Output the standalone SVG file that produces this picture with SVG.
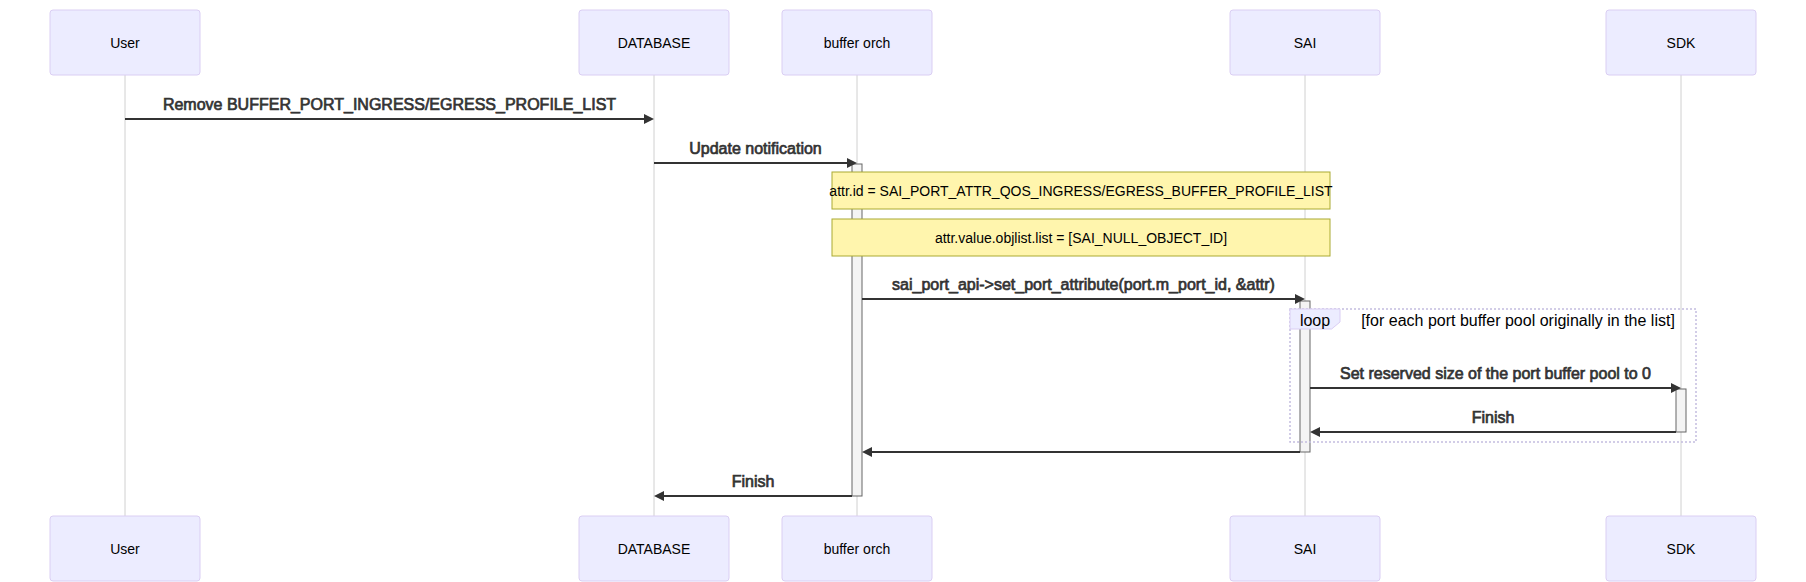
<svg xmlns="http://www.w3.org/2000/svg" width="1806" height="582" viewBox="0 0 1806 582">
<style>
.actor{fill:#ECECFF;stroke:#DACEF3;stroke-width:1}
.atext{font-family:"Liberation Sans",Arial,sans-serif;font-size:14px;fill:#000;text-anchor:middle;dominant-baseline:central}
.life{stroke:#d0d0d0;stroke-width:1}
.msg{stroke:#333;stroke-width:2;fill:none;marker-end:url(#arrowhead)}
.mtext{font-family:"Liberation Sans",Arial,sans-serif;font-size:16px;fill:#333;stroke:#333;stroke-width:0.7;text-anchor:middle}
.act{fill:#f4f4f4;stroke:#666;stroke-width:1}
.note{fill:#fff5ad;stroke:#aaaa33;stroke-width:1}
.ntext{font-family:"Liberation Sans",Arial,sans-serif;font-size:14px;fill:#000;text-anchor:middle;dominant-baseline:central}
.loopline{fill:none;stroke:#c4bde0;stroke-width:1.5;stroke-dasharray:2,2}
.lbox{fill:#ECECFF;stroke:#DACEF3;stroke-width:1}
.ltext{font-family:"Liberation Sans",Arial,sans-serif;font-size:16px;fill:#000;text-anchor:middle;dominant-baseline:central}
</style>
<defs>
<marker id="arrowhead" markerUnits="userSpaceOnUse" markerWidth="12" markerHeight="12" refX="7" refY="5" orient="auto">
<path d="M0,0 L10,5 L0,10 z" fill="#333"/>
</marker>
</defs>

<g id="lifelines">
<line class="life" x1="125" y1="75" x2="125" y2="516"/>
<line class="life" x1="654" y1="75" x2="654" y2="516"/>
<line class="life" x1="857" y1="75" x2="857" y2="516"/>
<line class="life" x1="1305" y1="75" x2="1305" y2="516"/>
<line class="life" x1="1681" y1="75" x2="1681" y2="516"/>
</g>

<g id="actor-user-top"><rect class="actor" x="50" y="10" width="150" height="65" rx="3"/><text class="atext" x="125" y="42.5">User</text></g>
<g id="actor-database-top"><rect class="actor" x="579" y="10" width="150" height="65" rx="3"/><text class="atext" x="654" y="42.5">DATABASE</text></g>
<g id="actor-bufferorch-top"><rect class="actor" x="782" y="10" width="150" height="65" rx="3"/><text class="atext" x="857" y="42.5">buffer orch</text></g>
<g id="actor-sai-top"><rect class="actor" x="1230" y="10" width="150" height="65" rx="3"/><text class="atext" x="1305" y="42.5">SAI</text></g>
<g id="actor-sdk-top"><rect class="actor" x="1606" y="10" width="150" height="65" rx="3"/><text class="atext" x="1681" y="42.5">SDK</text></g>

<g id="actor-user-bottom"><rect class="actor" x="50" y="516" width="150" height="65" rx="3"/><text class="atext" x="125" y="548.5">User</text></g>
<g id="actor-database-bottom"><rect class="actor" x="579" y="516" width="150" height="65" rx="3"/><text class="atext" x="654" y="548.5">DATABASE</text></g>
<g id="actor-bufferorch-bottom"><rect class="actor" x="782" y="516" width="150" height="65" rx="3"/><text class="atext" x="857" y="548.5">buffer orch</text></g>
<g id="actor-sai-bottom"><rect class="actor" x="1230" y="516" width="150" height="65" rx="3"/><text class="atext" x="1305" y="548.5">SAI</text></g>
<g id="actor-sdk-bottom"><rect class="actor" x="1606" y="516" width="150" height="65" rx="3"/><text class="atext" x="1681" y="548.5">SDK</text></g>

<g id="activation-bufferorch"><rect class="act" x="852" y="164" width="10" height="332"/></g>
<g id="activation-sai"><rect class="act" x="1300" y="301" width="10" height="151"/></g>

<g id="loop">
<rect class="loopline" x="1290" y="309" width="406" height="133"/>
<polygon class="lbox" points="1290,309 1340,309 1340,322 1331.6,329 1290,329"/>
<text class="ltext" x="1315" y="320">loop</text>
<text class="ltext" x="1518" y="320">[for each port buffer pool originally in the list]</text>
</g>

<g id="activation-sdk"><rect class="act" x="1676" y="389" width="10" height="43"/></g>

<g id="note-1"><rect class="note" x="832" y="172" width="498" height="37"/><text class="ntext" x="1081" y="190.5">attr.id = SAI_PORT_ATTR_QOS_INGRESS/EGRESS_BUFFER_PROFILE_LIST</text></g>
<g id="note-2"><rect class="note" x="832" y="219" width="498" height="37"/><text class="ntext" x="1081" y="237.5">attr.value.objlist.list = [SAI_NULL_OBJECT_ID]</text></g>

<g id="connectors">
<line class="msg" x1="125" y1="119" x2="651" y2="119"/>
<text class="mtext" x="389.5" y="110">Remove BUFFER_PORT_INGRESS/EGRESS_PROFILE_LIST</text>
<line class="msg" x1="654" y1="163" x2="854" y2="163"/>
<text class="mtext" x="755.5" y="154">Update notification</text>
<line class="msg" x1="862" y1="299" x2="1302" y2="299"/>
<text class="mtext" x="1083.5" y="290">sai_port_api-&gt;set_port_attribute(port.m_port_id, &amp;attr)</text>
<line class="msg" x1="1310" y1="388" x2="1678" y2="388"/>
<text class="mtext" x="1495.5" y="379">Set reserved size of the port buffer pool to 0</text>
<line class="msg" x1="1676" y1="432" x2="1313" y2="432"/>
<text class="mtext" x="1493" y="423">Finish</text>
<line class="msg" x1="1300" y1="452" x2="865" y2="452"/>
<line class="msg" x1="852" y1="496" x2="657" y2="496"/>
<text class="mtext" x="753" y="487">Finish</text>
</g>
</svg>
